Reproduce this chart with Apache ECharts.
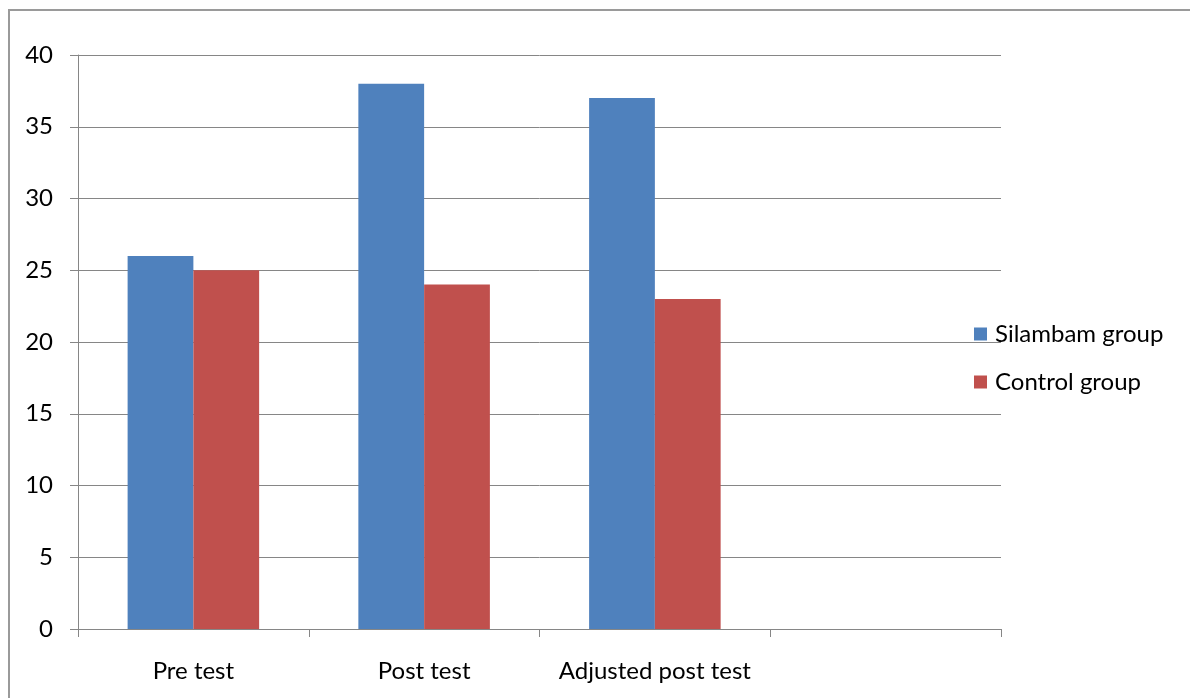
<!DOCTYPE html>
<html>
<head>
<meta charset="utf-8">
<style>
html,body{margin:0;padding:0;background:#fff;}
#chart{width:1190px;height:698px;}
</style>
<script src="https://cdn.jsdelivr.net/npm/echarts@6/dist/echarts.min.js"></script>
</head>
<body>
<div id="chart"></div>
<script>
const categories = ['Pre test', 'Post test', 'Adjusted post test', ''];
const silambamGroup = [26, 38, 37, null];
const controlGroup = [25, 24, 23, null];
const yTicks = [0, 5, 10, 15, 20, 25, 30, 35, 40];

const chart = echarts.init(document.getElementById('chart'));
const font = 'Lato, "Noto Sans", sans-serif';
chart.setOption({
  animation: false,
  backgroundColor: '#fff',
  graphic: [{
    type: 'rect',
    shape: {x: 9, y: 10, width: 1300, height: 800},
    style: {fill: 'none', stroke: '#9a9a9a', lineWidth: 2},
    silent: true
  }],
  grid: {left: 78, top: 55, right: 189, bottom: 69, containLabel: false},
  legend: {
    orient: 'vertical',
    left: 974,
    top: 322,
    padding: 0,
    itemWidth: 13,
    itemHeight: 13,
    itemGap: 24,
    icon: 'rect',
    textStyle: {fontFamily: font, fontSize: 24, color: '#000', padding: [0, 0, 0, 3]},
    data: ['Silambam group', 'Control group']
  },
  xAxis: {
    type: 'category',
    data: categories,
    axisLine: {lineStyle: {color: '#868686', width: 1}},
    axisTick: {show: true, alignWithLabel: false, length: 8, lineStyle: {color: '#868686'}},
    axisLabel: {fontFamily: font, fontSize: 24, color: '#000', margin: 30, interval: 0}
  },
  yAxis: {
    type: 'value',
    min: 0, max: 40, interval: 5,
    axisLine: {show: true, lineStyle: {color: '#868686', width: 1}},
    axisTick: {show: true, length: 8, lineStyle: {color: '#868686'}},
    splitLine: {lineStyle: {color: '#868686', width: 1}},
    axisLabel: {fontFamily: font, fontSize: 24, color: '#000', margin: 25,
      formatter: v => yTicks.includes(v) ? String(v) : ''}
  },
  series: [
    {name: 'Silambam group', type: 'bar', data: silambamGroup, barGap: '0%', barCategoryGap: '43%',
      itemStyle: {color: '#4F81BD'}},
    {name: 'Control group', type: 'bar', data: controlGroup, barGap: '0%', barCategoryGap: '43%',
      itemStyle: {color: '#C0504D'}}
  ]
});
</script>
</body>
</html>
